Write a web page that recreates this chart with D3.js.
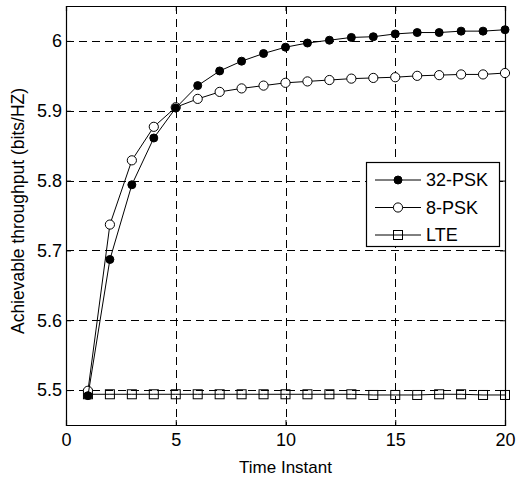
<!DOCTYPE html>
<html>
<head>
<meta charset="utf-8">
<script src="https://cdn.jsdelivr.net/npm/d3@7"></script>
<style>
  body { margin: 0; background: #fff; }
  svg { display: block; font-family: "Liberation Sans", Arial, sans-serif; }
</style>
</head>
<body>
<div id="chart"></div>
<script>
(function () {
  "use strict";

  // data
  var timeSteps = d3.range(1, 21);
  var psk32 = [5.492, 5.687, 5.794, 5.861, 5.904, 5.936, 5.957, 5.971, 5.982, 5.991,
               5.997, 6.001, 6.005, 6.006, 6.010, 6.012, 6.012, 6.014, 6.014, 6.016];
  var psk8 = [5.499, 5.737, 5.829, 5.877, 5.905, 5.917, 5.927, 5.932, 5.936, 5.940,
              5.942, 5.944, 5.946, 5.947, 5.948, 5.950, 5.951, 5.952, 5.952, 5.954];
  var lte = [5.494, 5.494, 5.494, 5.494, 5.494, 5.494, 5.494, 5.494, 5.494, 5.494,
             5.494, 5.494, 5.494, 5.493, 5.493, 5.493, 5.494, 5.494, 5.493, 5.493];
  var xTicks = [0, 5, 10, 15, 20];
  var yTicks = [5.5, 5.6, 5.7, 5.8, 5.9, 6];
  var seriesNames = ["32-PSK", "8-PSK", "LTE"];
  var seriesMarkers = ["dot", "circle", "square"];

  var width = 517, height = 478;
  var margin = { top: 6, right: 12, bottom: 53, left: 66 };
  var plotW = width - margin.left - margin.right;
  var plotH = height - margin.top - margin.bottom;

  var x = d3.scaleLinear().domain([0, 20]).range([0, plotW]);
  var y = d3.scaleLinear().domain([5.45, 6.05]).range([plotH, 0]);

  var svg = d3.select("#chart")
    .append("svg")
    .attr("width", width)
    .attr("height", height);

  var g = svg.append("g")
    .attr("transform", "translate(" + margin.left + "," + margin.top + ")");

  // grid
  g.append("g").selectAll("line")
    .data(xTicks.slice(1, -1))
    .enter().append("line")
    .attr("x1", function (d) { return Math.round(x(d)) + 0.5; })
    .attr("x2", function (d) { return Math.round(x(d)) + 0.5; })
    .attr("y1", 0).attr("y2", plotH)
    .attr("stroke", "#000").attr("stroke-dasharray", "8,5");

  g.append("g").selectAll("line")
    .data(yTicks)
    .enter().append("line")
    .attr("y1", function (d) { return Math.round(y(d)) + 0.5; })
    .attr("y2", function (d) { return Math.round(y(d)) + 0.5; })
    .attr("x1", 0).attr("x2", plotW)
    .attr("stroke", "#000").attr("stroke-dasharray", "8,5");

  // axes
  g.append("g")
    .attr("transform", "translate(0," + plotH + ")")
    .call(d3.axisBottom(x).tickValues(xTicks).tickSize(-5).tickPadding(8));
  g.append("g")
    .call(d3.axisLeft(y).tickValues(yTicks).tickSize(-5).tickPadding(4)
      .tickFormat(function (d) { return d === 6 ? "6" : d3.format(".1f")(d); }));
  g.append("g")
    .call(d3.axisTop(x).tickValues(xTicks).tickSize(-5).tickFormat(""));
  g.append("g")
    .attr("transform", "translate(" + plotW + ",0)")
    .call(d3.axisRight(y).tickValues(yTicks).tickSize(-5).tickFormat(""));

  svg.selectAll(".domain").attr("stroke", "#000").attr("stroke-width", 1.2);
  svg.selectAll(".tick text").attr("font-size", 18).attr("fill", "#000")
    .attr("font-family", "Liberation Sans, Arial, sans-serif");

  // lines
  var line = d3.line()
    .x(function (d) { return x(d[0]); })
    .y(function (d) { return y(d[1]); });

  var allSeries = [psk32, psk8, lte].map(function (vals, i) {
    return {
      name: seriesNames[i],
      marker: seriesMarkers[i],
      points: timeSteps.map(function (t, j) { return [t, vals[j]]; })
    };
  });

  function drawMarker(sel, kind) {
    if (kind === "square") {
      sel.append("rect")
        .attr("x", -4.5).attr("y", -4.5).attr("width", 9).attr("height", 9)
        .attr("fill", "none").attr("stroke", "#000").attr("stroke-width", 1);
    } else {
      sel.append("circle")
        .attr("r", kind === "dot" ? 4 : 4.6)
        .attr("fill", kind === "dot" ? "#000" : "#fff")
        .attr("stroke", "#000").attr("stroke-width", 1);
    }
  }

  // draw LTE first so the PSK curves lie on top
  allSeries.slice().reverse().forEach(function (s) {
    g.append("path")
      .datum(s.points)
      .attr("d", line)
      .attr("fill", "none")
      .attr("stroke", "#000")
      .attr("stroke-width", 1);
    g.append("g").selectAll("g")
      .data(s.points)
      .enter().append("g")
      .attr("transform", function (d) { return "translate(" + x(d[0]) + "," + y(d[1]) + ")"; })
      .each(function () { drawMarker(d3.select(this), s.marker); });
  });

  // legend
  var legend = g.append("g").attr("transform", "translate(300,156)");
  legend.append("rect")
    .attr("x", 0.5).attr("y", 0.5).attr("width", 133).attr("height", 84)
    .attr("fill", "#fff").attr("stroke", "#000").attr("stroke-width", 1.2);
  allSeries.forEach(function (s, i) {
    var row = legend.append("g").attr("transform", "translate(0," + (18 + i * 27.5) + ")");
    row.append("line")
      .attr("x1", 9).attr("x2", 55).attr("y1", 0).attr("y2", 0)
      .attr("stroke", "#000").attr("stroke-width", 1);
    drawMarker(row.append("g").attr("transform", "translate(32,0)"), s.marker);
    row.append("text")
      .attr("x", 60).attr("y", 0).attr("dy", "0.36em")
      .attr("font-size", 18).text(s.name);
  });

  // axis titles
  svg.append("text")
    .attr("x", margin.left + plotW / 2).attr("y", 473)
    .attr("text-anchor", "middle").attr("font-size", 17)
    .text("Time Instant");
  svg.append("text")
    .attr("transform", "translate(24,211) rotate(-90)")
    .attr("text-anchor", "middle").attr("font-size", 17.5)
    .text("Achievable throughput (bits/HZ)");
}());
</script>
</body>
</html>
